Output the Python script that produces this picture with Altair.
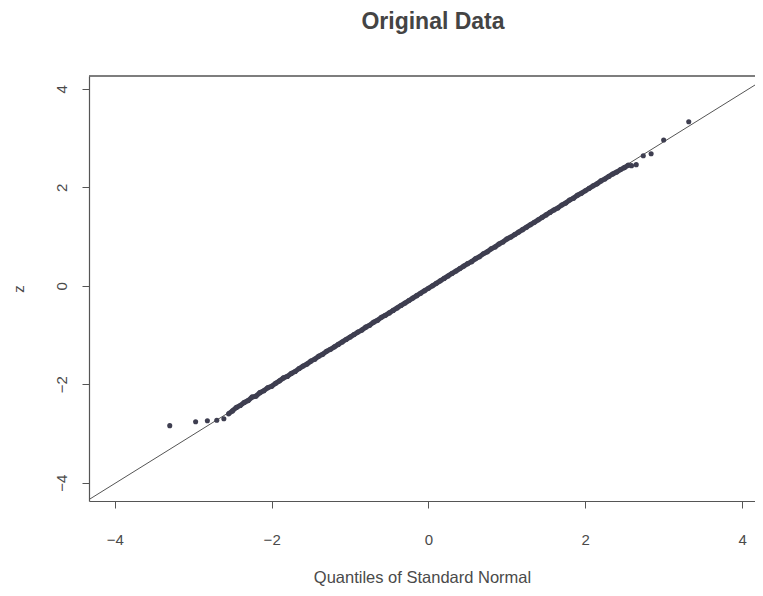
import altair as alt
import pandas as pd

# Tail points
tail_x = [-3.30, -2.97, -2.82, -2.70, -2.61, 2.59, 2.65, 2.74, 2.84, 3.00, 3.32]
tail_y = [-2.84, -2.76, -2.74, -2.73, -2.70, 2.44, 2.46, 2.64, 2.68, 2.96, 3.33]

# Dense band read along its path
band_x = [-2.55, -2.50, -2.45, -2.40, -2.35, -2.30, -2.25, -2.20, -2.15, -2.10,
          -2.05, -2.00, -1.95, -1.90, -1.85, -1.80, -1.75, -1.70, -1.65, -1.60,
          -1.55, -1.50, -1.45, -1.40, -1.35, -1.30, -1.25, -1.20, -1.15, -1.10,
          -1.05, -1.00, -0.95, -0.90, -0.85, -0.80, -0.75, -0.70, -0.65, -0.60,
          -0.55, -0.50, -0.45, -0.40, -0.35, -0.30, -0.25, -0.20, -0.15, -0.10,
          -0.05, 0.00, 0.05, 0.10, 0.15, 0.20, 0.25, 0.30, 0.35, 0.40,
          0.45, 0.50, 0.55, 0.60, 0.65, 0.70, 0.75, 0.80, 0.85, 0.90,
          0.95, 1.00, 1.05, 1.10, 1.15, 1.20, 1.25, 1.30, 1.35, 1.40,
          1.45, 1.50, 1.55, 1.60, 1.65, 1.70, 1.75, 1.80, 1.85, 1.90,
          1.95, 2.00, 2.05, 2.10, 2.15, 2.20, 2.25, 2.30, 2.35, 2.40,
          2.45, 2.50, 2.55]
band_y = [-2.60, -2.54, -2.47, -2.43, -2.37, -2.33, -2.26, -2.24, -2.17, -2.13,
          -2.07, -2.04, -1.98, -1.93, -1.87, -1.84, -1.78, -1.74, -1.68, -1.63,
          -1.59, -1.53, -1.49, -1.43, -1.39, -1.33, -1.29, -1.24, -1.19, -1.14,
          -1.09, -1.04, -0.99, -0.94, -0.90, -0.84, -0.80, -0.74, -0.70, -0.64,
          -0.60, -0.55, -0.50, -0.45, -0.40, -0.35, -0.30, -0.25, -0.20, -0.15,
          -0.10, -0.05, 0.00, 0.05, 0.10, 0.15, 0.20, 0.25, 0.30, 0.35,
          0.40, 0.45, 0.49, 0.55, 0.59, 0.65, 0.69, 0.75, 0.79, 0.85,
          0.89, 0.95, 0.99, 1.04, 1.09, 1.14, 1.19, 1.24, 1.29, 1.34,
          1.39, 1.44, 1.49, 1.54, 1.58, 1.64, 1.68, 1.74, 1.78, 1.84,
          1.88, 1.93, 1.98, 2.03, 2.07, 2.13, 2.17, 2.22, 2.27, 2.31,
          2.36, 2.40, 2.45]

# Reference line endpoints
line_x = [-4.40, 4.40]
line_y = [-4.41, 4.31]

tick_vals = [-4, -2, 0, 2, 4]
x_domain = [-4.33, 4.165]
y_domain = [-4.37, 4.26]

W, H = 666, 425

pts = pd.DataFrame({"q": tail_x + band_x, "z": tail_y + band_y})
band = pd.DataFrame({"q": band_x, "z": band_y})
ref = pd.DataFrame({"q": line_x, "z": line_y})

FONT = "Arial, Liberation Sans, sans-serif"
AXC = "#555555"
TXT = "#4a4a4a"
PTC = "#3e3e50"

x_enc = alt.X("q:Q", scale=alt.Scale(domain=x_domain, nice=False, zero=False),
              axis=alt.Axis(values=tick_vals, format="d",
                            title="Quantiles of Standard Normal",
                            grid=False, domain=True, domainColor=AXC, domainWidth=1.2,
                            tickSize=7, tickColor=AXC,
                            labelPadding=24, labelFontSize=15, labelFont=FONT,
                            labelColor=TXT, titleFont=FONT, titleFontSize=16.5,
                            titleFontWeight="normal", titleColor=TXT, titlePadding=22,
                            labelFlush=False))
y_enc = alt.Y("z:Q", scale=alt.Scale(domain=y_domain, nice=False, zero=False),
              axis=alt.Axis(values=tick_vals, format="d", title="z", grid=False,
                            domain=True, domainColor=AXC, domainWidth=1.2,
                            tickSize=7, tickColor=AXC, labelAngle=270,
                            labelAlign="center", labelBaseline="bottom",
                            labelPadding=13, labelFontSize=15, labelFont=FONT,
                            labelColor=TXT, titleFont=FONT, titleFontSize=15,
                            titleFontWeight="normal", titleColor=TXT, titlePadding=28,
                            labelFlush=False))

line = alt.Chart(ref).mark_line(color="#555555", strokeWidth=1, clip=True).encode(
    x=x_enc, y=y_enc)
band_line = alt.Chart(band).mark_line(color=PTC, strokeWidth=5).encode(
    x="q:Q", y="z:Q", order="q:Q")
points = alt.Chart(pts).mark_circle(size=26, color=PTC, opacity=1).encode(
    x="q:Q", y="z:Q")
top_border = alt.Chart(ref).mark_rule(color=AXC, strokeWidth=1.2).encode(
    x=alt.value(0), x2=alt.value(W), y=alt.value(0))

chart = (line + band_line + points + top_border).properties(
    width=W, height=H,
    background="white",
    autosize=alt.AutoSizeParams(type="none"),
    padding={"left": 81, "top": 68, "right": 0, "bottom": 86},
    title=alt.TitleParams("Original Data", font=FONT, fontSize=23, fontWeight="bold",
                          color="#444444", anchor="middle", baseline="alphabetic",
                          offset=23, dx=11),
).configure_view(stroke=None)

chart.save("out.html", embed_options={"renderer": "svg", "actions": False})
